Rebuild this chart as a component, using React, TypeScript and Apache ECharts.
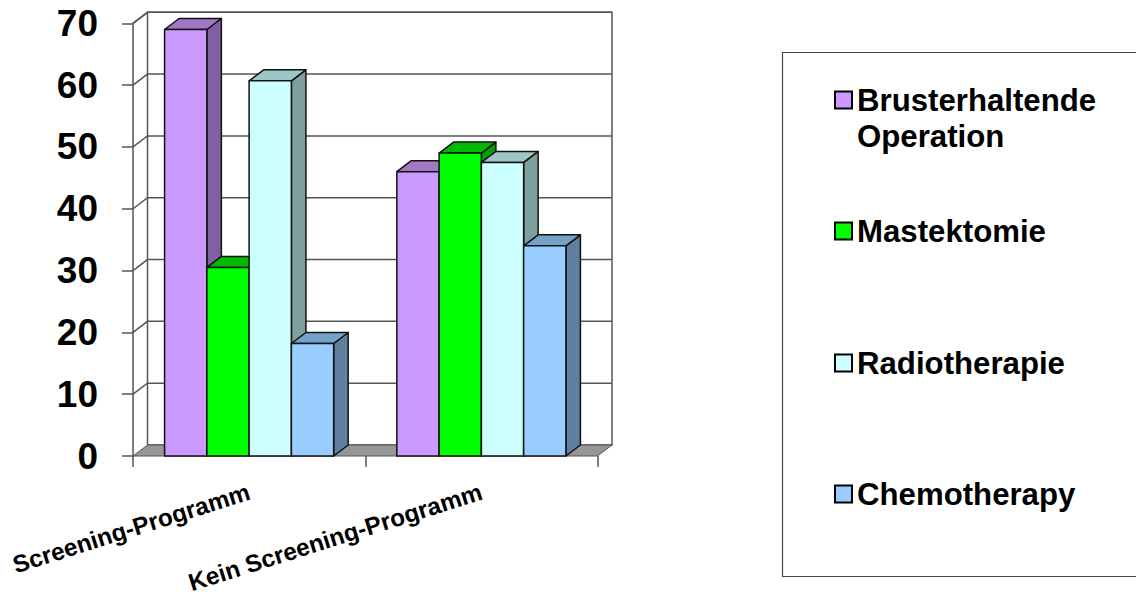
import React, { useEffect, useRef } from "react";
import * as echarts from "echarts";

const categories = ["Screening-Programm", "Kein Screening-Programm"];
const seriesNames = ["Brusterhaltende Operation", "Mastektomie", "Radiotherapie", "Chemotherapy"];
const brusterhaltend = [69, 46];
const mastektomie = [30.5, 49];
const radiotherapie = [60.7, 47.5];
const chemotherapy = [18.2, 34];
const yTicks = [0, 10, 20, 30, 40, 50, 60, 70];

const frontColors = ["#CC99FF", "#00FF00", "#CCFFFF", "#99CCFF"];
const topColors = ["#A278C6", "#00B800", "#9EC6C6", "#74A2C8"];
const sideColors = ["#8060A0", "#00A000", "#80A0A0", "#6080A0"];
const legendTops = [46, 213, 345, 476];

const FONT = "'Liberation Sans', Arial, sans-serif";
const DEPTH_X = 14.5;
const DEPTH_Y = -11;
const BAR_SHARE = 0.182;
const INK = "#111";
const FRAME = "#555";

type Pt = [number, number];
const skew = (p: number[]): Pt => [p[0] + DEPTH_X, p[1] + DEPTH_Y];

// Back wall, side wall, floor and the gridlines that run across them.
const renderWalls = (params: any, api: any) => {
  const tick = api.value(0);
  const size = api.size([1, 0]);
  const left = api.coord([0, tick])[0] - size[0] / 2;
  const right = api.coord([1, tick])[0] + size[0] / 2;
  const y = api.coord([0, tick])[1];
  const lineStyle = { stroke: FRAME, lineWidth: 1.5, fill: "none" };
  const children: any[] = [];
  const a: Pt = [left, y];
  const b = skew(a);
  const c = skew([right, y]);
  if (tick === yTicks[0]) {
    const top = api.coord([0, yTicks[yTicks.length - 1]])[1];
    const wallTop = skew([left, top]);
    children.push({
      type: "rect",
      shape: { x: b[0], y: wallTop[1], width: c[0] - b[0], height: b[1] - wallTop[1] },
      style: { fill: "#fff", stroke: FRAME, lineWidth: 1.5 },
    });
    children.push({
      type: "polygon",
      shape: { points: [a, b, c, [right, y]] },
      style: { fill: "#969696", stroke: FRAME, lineWidth: 1 },
    });
    children.push({
      type: "polyline",
      shape: { points: [[left, top], wallTop] },
      style: lineStyle,
    });
  } else {
    children.push({ type: "polyline", shape: { points: [a, b, c] }, style: lineStyle });
  }
  return { type: "group", children };
};

// One extruded bar: front face, top face and right-hand face.
const renderBar = (slot: number) => (params: any, api: any) => {
  const cat = api.value(0);
  const val = api.value(1);
  const band = api.size([1, 0])[0];
  const w = band * BAR_SHARE;
  const cx = api.coord([cat, 0])[0];
  const x0 = cx + (slot - 2) * w;
  const x1 = x0 + w;
  const yTop = api.coord([cat, val])[1];
  const yBase = api.coord([cat, 0])[1];
  const stroke = { stroke: INK, lineWidth: 1.5, lineJoin: "round" };
  const face = (pts: Pt[], fill: string) => ({
    type: "polygon",
    shape: { points: pts },
    style: { fill, ...stroke },
  });
  return {
    type: "group",
    children: [
      face([[x1, yBase], skew([x1, yBase]), skew([x1, yTop]), [x1, yTop]], sideColors[slot]),
      face([[x0, yTop], skew([x0, yTop]), skew([x1, yTop]), [x1, yTop]], topColors[slot]),
      face([[x0, yBase], [x0, yTop], [x1, yTop], [x1, yBase]], frontColors[slot]),
    ],
  };
};

const seriesValues = [brusterhaltend, mastektomie, radiotherapie, chemotherapy];

// A leading blank line keeps the first wrapped line level with its swatch.
const legendLabel = (name: string) =>
  name.includes(" ") ? "\n" + name.replace(" ", "\n") : name;

export default function App() {
  const ref = useRef<HTMLDivElement>(null);
  useEffect(() => {
    const chart = echarts.init(ref.current!, undefined, { renderer: "svg" });
    chart.setOption({
      animation: false,
      backgroundColor: "#fff",
      grid: { left: 133, right: 538.5, top: 23.3, bottom: 141, outerBoundsMode: "none" },
      xAxis: {
        type: "category",
        data: categories,
        boundaryGap: true,
        axisLine: { show: false },
        axisTick: { show: true, length: 11, alignWithLabel: false, lineStyle: { color: FRAME, width: 1.5 } },
        axisLabel: {
          interval: 0,
          rotate: 17.5,
          margin: 35,
          color: "#000",
          fontFamily: FONT,
          fontWeight: "bold",
          fontSize: 24.3,
        },
      },
      yAxis: {
        type: "value",
        min: 0,
        max: 70,
        interval: 10,
        splitLine: { show: false },
        axisLine: { show: true, lineStyle: { color: FRAME, width: 1.5 } },
        axisTick: { show: true, length: 11, lineStyle: { color: FRAME, width: 1.5 } },
        axisLabel: {
          margin: 35,
          padding: [4, 0, 0, 0],
          color: "#000",
          fontFamily: FONT,
          fontWeight: "bold",
          fontSize: 37,
        },
      },
      graphic: [
        {
          type: "rect",
          silent: true,
          shape: { x: 782.5, y: 52.5, width: 360, height: 524 },
          style: { fill: "#fff", stroke: "#444", lineWidth: 1.2 },
          z: -1,
        },
      ],
      legend: seriesNames.map((name, i) => ({
        left: 834,
        top: legendTops[i],
        padding: 0,
        selectedMode: false,
        itemWidth: 17,
        itemHeight: 17,
        itemGap: 0,
        data: [
          {
            name,
            icon: "rect",
            itemStyle: { color: frontColors[i], borderColor: "#000", borderWidth: 2 },
          },
        ],
        formatter: legendLabel,
        textStyle: {
          color: "#000",
          fontFamily: FONT,
          fontWeight: "bold",
          fontSize: 31.2,
          lineHeight: 36,
        },
      })),
      series: [
        {
          type: "custom",
          name: "Wände",
          silent: true,
          renderItem: renderWalls,
          data: yTicks.map((t) => [t]),
          encode: { y: 0 },
          z: 1,
        },
        ...seriesNames.map((name, i) => ({
          type: "custom",
          name,
          silent: true,
          renderItem: renderBar(i),
          data: categories.map((_, c) => [c, seriesValues[i][c]]),
          encode: { x: 0, y: 1 },
          itemStyle: { color: frontColors[i] },
          z: 2 + i,
        })),
      ],
    });
    return () => chart.dispose();
  }, []);
  return <div ref={ref} style={{ position: "absolute", left: 0, top: 0, width: 1136, height: 597 }} />;
}
